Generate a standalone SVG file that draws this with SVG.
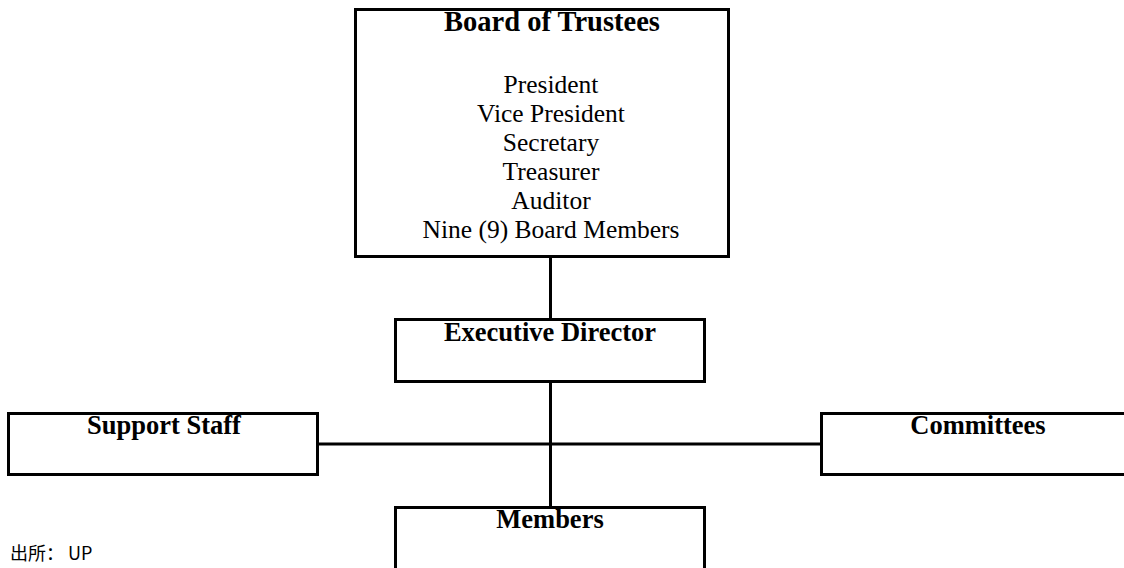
<svg xmlns="http://www.w3.org/2000/svg" width="1124" height="568" viewBox="0 0 1124 568">
  <style>
    .box { fill: #ffffff; stroke: #000000; stroke-width: 3; }
    .link { stroke: #000000; stroke-width: 3; fill: none; }
    .title { font-family: "Liberation Serif", "Times New Roman", serif; font-weight: bold; font-size: 26.5px; text-anchor: middle; fill: #000000; }
    .head { font-family: "Liberation Serif", "Times New Roman", serif; font-weight: bold; font-size: 28.5px; text-anchor: middle; fill: #000000; }
    .item { font-family: "Liberation Serif", "Times New Roman", serif; font-size: 25.5px; text-anchor: middle; fill: #000000; }
    .note { font-family: "Noto Sans CJK SC", "Noto Sans", sans-serif; font-size: 18px; fill: #000000; }
  </style>
  <rect width="1124" height="568" fill="#ffffff"/>

  <!-- connectors -->
  <g id="connectors">
    <line class="link" x1="550.5" y1="257" x2="550.5" y2="319"/>
    <line class="link" x1="550.5" y1="382" x2="550.5" y2="507"/>
    <line class="link" x1="318" y1="444" x2="821" y2="444"/>
  </g>

  <g id="board">
    <rect class="box" x="355.5" y="9.5" width="373" height="247"/>
    <text class="head" x="552" y="31">Board of Trustees</text>
    <text class="item" x="551" y="93">President</text>
    <text class="item" x="551" y="122">Vice President</text>
    <text class="item" x="551" y="151">Secretary</text>
    <text class="item" x="551" y="180">Treasurer</text>
    <text class="item" x="551" y="209">Auditor</text>
    <text class="item" x="551" y="238">Nine (9) Board Members</text>
  </g>

  <g id="executive-director">
    <rect class="box" x="395.5" y="319.5" width="309" height="62"/>
    <text class="title" x="550" y="341">Executive Director</text>
  </g>

  <g id="support-staff">
    <rect class="box" x="8.5" y="413.5" width="309" height="61"/>
    <text class="title" x="164" y="434">Support Staff</text>
  </g>

  <g id="committees">
    <rect class="box" x="821.5" y="413.5" width="320" height="61"/>
    <text class="title" x="978" y="434">Committees</text>
  </g>

  <g id="members">
    <rect class="box" x="395.5" y="507.5" width="309" height="70"/>
    <text class="title" x="550" y="528">Members</text>
  </g>

  <text class="note" x="10" y="560">出所： UP</text>
</svg>
